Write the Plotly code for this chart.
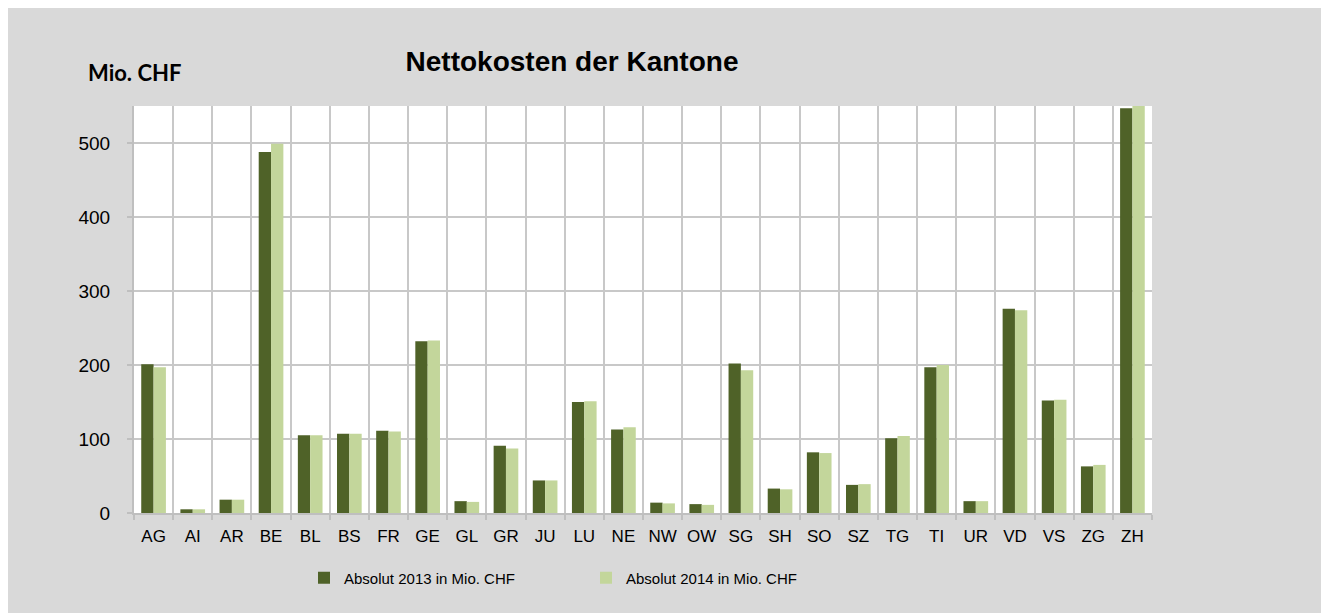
import plotly.graph_objects as go

cantons = ["AG", "AI", "AR", "BE", "BL", "BS", "FR", "GE", "GL", "GR", "JU", "LU", "NE",
           "NW", "OW", "SG", "SH", "SO", "SZ", "TG", "TI", "UR", "VD", "VS", "ZG", "ZH"]
abs_2013 = [201, 5, 18, 488, 105, 107, 111, 232, 16, 91, 44, 150, 113,
            14, 12, 202, 33, 82, 38, 101, 197, 16, 276, 152, 63, 547]
abs_2014 = [197, 5, 18, 499, 105, 107, 110, 233, 15, 87, 44, 151, 116,
            13, 11, 193, 32, 81, 39, 104, 200, 16, 274, 153, 65, 556]
y_ticks = [0, 100, 200, 300, 400, 500]

name_2013 = "Absolut 2013 in Mio. CHF"
name_2014 = "Absolut 2014 in Mio. CHF"
title_text = "Nettokosten der Kantone"
unit_text = "Mio. CHF"

dark = "#4F6228"
light = "#C3D69B"
grid = "#C8C8C8"
sans = "Liberation Sans, Arial"

# figure sits at an 8 px page margin in the browser window
W, H = 1316, 605
L, R, T, B = 126, 172, 98, 100
pw, ph = W - L - R, H - T - B

fig = go.Figure()
fig.add_trace(go.Bar(x=cantons, y=abs_2013, name=name_2013,
                     marker=dict(color=dark, line=dict(width=0))))
fig.add_trace(go.Bar(x=cantons, y=abs_2014, name=name_2014,
                     marker=dict(color=light, line=dict(width=0))))

fig.update_layout(
    width=W, height=H,
    margin=dict(l=L, r=R, t=T, b=B, pad=0),
    paper_bgcolor="#D9D9D9",
    plot_bgcolor="#FFFFFF",
    barmode="group",
    bargap=0.37,
    bargroupgap=0,
    title=dict(text=title_text, x=564 / W, xref="container", xanchor="center",
               y=1 - 53 / H, yref="container", yanchor="middle",
               font=dict(family=sans, size=28, color="#000000", weight="bold")),
    showlegend=True,
    legend=dict(orientation="h", xref="container", yref="container",
                x=296 / W, xanchor="left", y=1 - 570 / H, yanchor="middle",
                bgcolor="rgba(0,0,0,0)", entrywidth=237, entrywidthmode="pixels",
                font=dict(family=sans, size=15, color="#000000"),
                traceorder="normal"),
    xaxis=dict(type="category", tickson="boundaries", showgrid=True,
               gridcolor=grid, gridwidth=1.5, tickangle=0,
               showline=True, linecolor="#BFBFBF", linewidth=2,
               ticks="outside", ticklen=5, tickcolor="#BFBFBF", tickwidth=1.5,
               ticklabelstandoff=7,
               tickfont=dict(family=sans, size=17, color="#000000"),
               fixedrange=True),
    yaxis=dict(range=[0, 550], tickvals=y_ticks, showgrid=True,
               gridcolor=grid, gridwidth=1.5, zeroline=False,
               showline=True, linecolor="#BFBFBF", linewidth=2,
               ticks="outside", ticklen=5, tickcolor="#BFBFBF", tickwidth=1.5,
               ticklabelstandoff=13,
               tickfont=dict(family=sans, size=19, color="#000000"),
               fixedrange=True),
)

fig.add_annotation(text="<b>" + unit_text + "</b>", xref="paper", yref="paper",
                   x=(78 - L) / pw, xanchor="left", y=(H - B - 65) / ph, yanchor="middle",
                   showarrow=False,
                   font=dict(family="Lato, Open Sans", size=22, color="#000000"))

fig.write_html("out.html")
